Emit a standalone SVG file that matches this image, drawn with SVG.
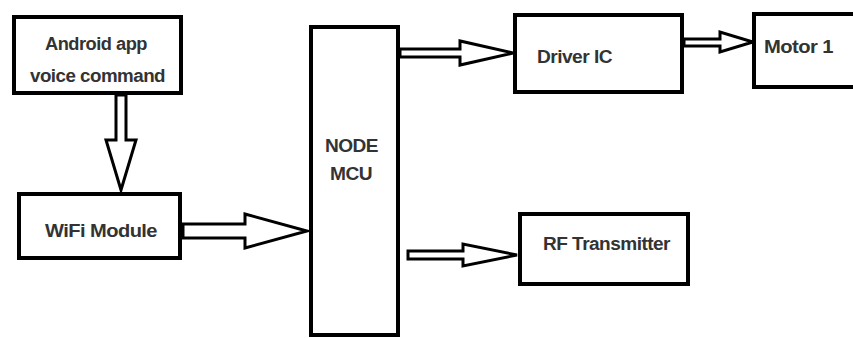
<svg xmlns="http://www.w3.org/2000/svg" width="853" height="338" viewBox="0 0 853 338">
<style>
.box{fill:#fff;stroke:#000;stroke-width:4}
.arr{fill:#fff;stroke:#000;stroke-width:3;stroke-linejoin:miter}
.lbl{font-family:"Liberation Sans",Arial,sans-serif;font-size:18px;font-weight:bold;fill:#333;letter-spacing:-0.5px}
</style>
<rect width="853" height="338" fill="#fff"/>
<g id="connectors">
<polygon class="arr" points="116,95 116,140 106,140 121,190 136,140 126,140 126,95"/>
<polygon class="arr" points="183,224 245,224 245,214 307,231 245,248 245,238 183,238"/>
<polygon class="arr" points="400,49 460,49 460,41 513,53 460,65 460,57 400,57"/>
<polygon class="arr" points="408,251 463,251 463,244 517,255 463,266 463,259 408,259"/>
<polygon class="arr" points="684,39 720,39 720,32 753,42 720,52 720,46 684,46"/>
</g>
<g id="android">
<rect class="box" x="14" y="17" width="167" height="76"/>
<text class="lbl" x="45" y="50" textLength="102" lengthAdjust="spacingAndGlyphs">Android app</text>
<text class="lbl" x="30" y="82" textLength="135" lengthAdjust="spacingAndGlyphs">voice command</text>
</g>
<g id="wifi">
<rect class="box" x="19" y="194" width="161" height="64"/>
<text class="lbl" x="45" y="237" textLength="112" lengthAdjust="spacingAndGlyphs">WiFi Module</text>
</g>
<g id="mcu">
<rect class="box" x="311" y="27" width="87" height="308"/>
<text class="lbl" x="325" y="152" textLength="53" lengthAdjust="spacingAndGlyphs">NODE</text>
<text class="lbl" x="330" y="180" textLength="42" lengthAdjust="spacingAndGlyphs">MCU</text>
</g>
<g id="driver">
<rect class="box" x="515" y="15" width="167" height="77"/>
<text class="lbl" x="537" y="63" textLength="75" lengthAdjust="spacingAndGlyphs">Driver IC</text>
</g>
<g id="rf">
<rect class="box" x="520" y="214" width="168" height="70"/>
<text class="lbl" x="543" y="250" textLength="127" lengthAdjust="spacingAndGlyphs">RF Transmitter</text>
</g>
<g id="motor">
<rect class="box" x="754" y="14" width="110" height="73"/>
<text class="lbl" x="764" y="53" textLength="69" lengthAdjust="spacingAndGlyphs">Motor 1</text>
</g>
</svg>
